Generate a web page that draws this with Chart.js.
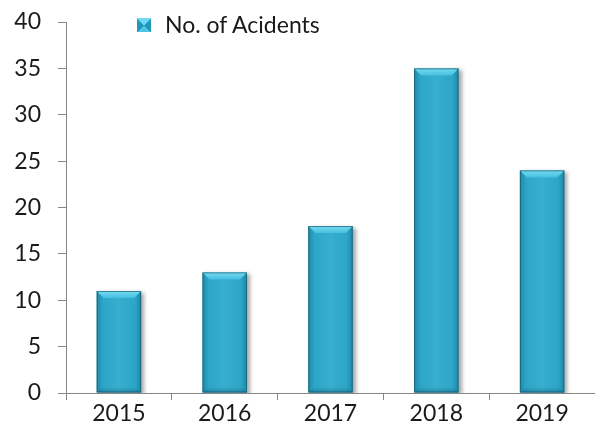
<!DOCTYPE html>
<html>
<head>
<meta charset="utf-8">
<script src="https://cdn.jsdelivr.net/npm/chart.js@4"></script>
<style>
  html, body { margin: 0; padding: 0; background: #fff; }
  #wrap { position: relative; width: 595px; height: 439px; }
  #legend { position: absolute; left: 137px; top: 10px; display: flex; align-items: center;
            font-family: Lato, 'Open Sans', sans-serif; font-size: 23px; color: #1a1a1a; }
  #legend .box { width: 14px; height: 14px; margin-right: 14px; margin-top: 2px;
                 background: conic-gradient(from -45deg, #6fd9f2 0 90deg, #1f97bb 90deg 180deg, #4fc5e4 180deg 270deg, #1f97bb 270deg 360deg); }
</style>
</head>
<body>
<div id="wrap">
  <canvas id="accidentChart" width="595" height="439"></canvas>
  <div id="legend"><span class="box"></span><span id="legendText"></span></div>
</div>
<script>
// chart data
const years = ['2015', '2016', '2017', '2018', '2019'];
const accidents = [11, 13, 18, 35, 24];
const seriesLabel = 'No. of Acidents';
const yMin = 0;
const yMax = 40;
const yStep = 5;

document.getElementById('legendText').textContent = seriesLabel;

// draws the Excel-like bevel on top of every bar the library placed
const bevelBars = {
    id: 'bevelBars',
    beforeDatasetsDraw(chart) {
        const ctx = chart.ctx;
        ctx.save();
        ctx.shadowColor = 'rgba(0, 0, 0, 0.35)';
        ctx.shadowBlur = 4;
        ctx.shadowOffsetX = 3;
        ctx.shadowOffsetY = 2;
    },
    afterDatasetsDraw(chart) {
        const ctx = chart.ctx;
        ctx.restore();
        chart.getDatasetMeta(0).data.forEach(function(bar) {
            const p = bar.getProps(['x', 'y', 'base', 'width'], true);
            const l = p.x - p.width / 2, r = p.x + p.width / 2;
            const t = p.y, b = p.base;
            const bv = Math.min(7, (b - t) / 4);
            ctx.save();

            // side shading
            const g = ctx.createLinearGradient(l, 0, r, 0);
            g.addColorStop(0, 'rgba(0, 60, 80, 0.30)');
            g.addColorStop(0.14, 'rgba(0, 60, 80, 0.04)');
            g.addColorStop(0.5, 'rgba(255, 255, 255, 0.05)');
            g.addColorStop(0.86, 'rgba(0, 60, 80, 0.04)');
            g.addColorStop(1, 'rgba(0, 60, 80, 0.30)');
            ctx.fillStyle = g;
            ctx.fillRect(l, t, p.width, b - t);

            // top bevel
            const tg = ctx.createLinearGradient(0, t, 0, t + bv);
            tg.addColorStop(0, '#78dcf3');
            tg.addColorStop(1, '#45bfdf');
            ctx.beginPath();
            ctx.moveTo(l, t);
            ctx.lineTo(r, t);
            ctx.lineTo(r - bv, t + bv);
            ctx.lineTo(l + bv, t + bv);
            ctx.closePath();
            ctx.fillStyle = tg;
            ctx.fill();

            // bottom bevel
            const bg = ctx.createLinearGradient(0, b - 5, 0, b);
            bg.addColorStop(0, 'rgba(10, 80, 100, 0.05)');
            bg.addColorStop(1, 'rgba(10, 80, 100, 0.35)');
            ctx.beginPath();
            ctx.moveTo(l, b);
            ctx.lineTo(r, b);
            ctx.lineTo(r - 5, b - 5);
            ctx.lineTo(l + 5, b - 5);
            ctx.closePath();
            ctx.fillStyle = bg;
            ctx.fill();

            // outline
            ctx.strokeStyle = 'rgba(20, 90, 110, 0.7)';
            ctx.lineWidth = 1;
            ctx.strokeRect(l + 0.5, t + 0.5, p.width - 1, b - t - 1);
            ctx.restore();
        });
    }
};

Chart.defaults.font.family = "Lato, 'Open Sans', sans-serif";
Chart.defaults.color = '#1a1a1a';

const ctx = document.getElementById('accidentChart').getContext('2d');
new Chart(ctx, {
    type: 'bar',
    data: {
        labels: years,
        datasets: [{
            label: seriesLabel,
            data: accidents,
            backgroundColor: '#2eaacd',
            borderWidth: 0,
            barPercentage: 0.42,
            categoryPercentage: 1.0
        }]
    },
    options: {
        responsive: false,
        animation: false,
        layout: {
            padding: { left: 14, top: 22, right: 0, bottom: 11 }
        },
        plugins: {
            legend: { display: false },
            tooltip: { enabled: false }
        },
        scales: {
            x: {
                grid: {
                    display: true,
                    drawOnChartArea: false,
                    offset: true,
                    tickLength: 7,
                    color: '#868686'
                },
                border: { color: '#868686', width: 1 },
                ticks: { font: { size: 23 }, padding: 0 },
                afterFit: function(scale) {
                    scale.height = 35;
                    scale.paddingLeft = 0;
                    scale.paddingRight = 0;
                }
            },
            y: {
                min: yMin,
                max: yMax,
                grid: {
                    display: true,
                    drawOnChartArea: false,
                    tickLength: 8,
                    color: '#868686'
                },
                border: { color: '#868686', width: 1 },
                ticks: { stepSize: yStep, font: { size: 23 }, padding: 17 },
                afterFit: function(scale) {
                    scale.width = 52;
                    scale.paddingTop = 0;
                    scale.paddingBottom = 0;
                }
            }
        }
    },
    plugins: [bevelBars]
});
</script>
</body>
</html>
